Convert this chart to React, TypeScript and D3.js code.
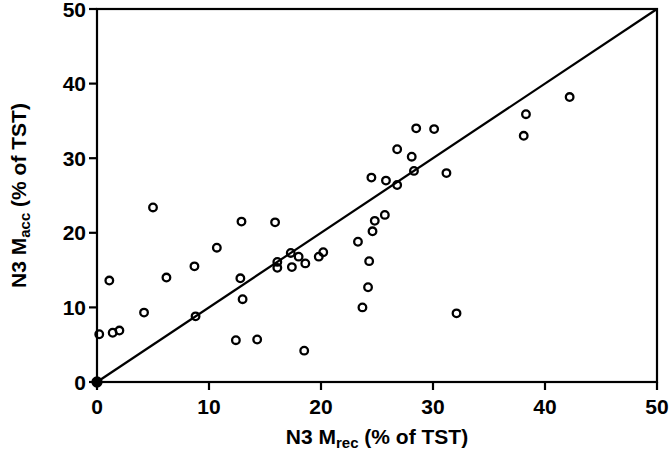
import * as d3 from 'd3';

// N3 M_rec (% of TST) vs N3 M_acc (% of TST), one pair per subject
const recValues = [
    0, 0.2, 1.1, 1.4, 2.0, 4.2, 5.0, 6.2, 8.7, 8.8,
    10.7, 12.4, 12.8, 12.9, 13.0, 14.3, 15.9, 16.1, 16.1, 17.3,
    17.4, 18.0, 18.5, 18.6, 19.8, 20.2, 23.3, 23.7, 24.2, 24.3,
    24.5, 24.6, 24.8, 25.7, 25.8, 26.8, 26.8, 28.1, 28.3, 28.5,
    30.1, 31.2, 32.1, 38.1, 38.3, 42.2,
];
const accValues = [
    0, 6.4, 13.6, 6.6, 6.9, 9.3, 23.4, 14.0, 15.5, 8.8,
    18.0, 5.6, 13.9, 21.5, 11.1, 5.7, 21.4, 16.1, 15.3, 17.3,
    15.4, 16.8, 4.2, 15.9, 16.8, 17.4, 18.8, 10.0, 12.7, 16.2,
    27.4, 20.2, 21.6, 22.4, 27.0, 26.4, 31.2, 30.2, 28.3, 34.0,
    33.9, 28.0, 9.2, 33.0, 35.9, 38.2,
];
const tickValues = [0, 10, 20, 30, 40, 50];
const identityLine = [0, 50];

const width = 670;
const height = 452;
const margin = { top: 9, right: 13, bottom: 70, left: 97 };
const font = '"Liberation Sans", Arial, Helvetica, sans-serif';

export default function App() {
    const x = d3.scaleLinear().domain([0, 50]).range([margin.left, width - margin.right]);
    const y = d3.scaleLinear().domain([0, 50]).range([height - margin.bottom, margin.top]);

    const points = recValues.map((r, i) => ({ r, a: accValues[i] }));
    const line = d3.line<number>()
        .x((d) => x(d))
        .y((d) => y(d));

    const x0 = x(0);
    const x1 = x(50);
    const y0 = y(0);
    const y1 = y(50);

    return (
        <svg
            width={width}
            height={height}
            style={{ position: 'absolute', left: 0, top: 0, background: '#fff' }}
            fontFamily={font}
            fontWeight="bold"
        >
            {/* frame */}
            <rect x={x0} y={y1} width={x1 - x0} height={y0 - y1} fill="none" stroke="#000" strokeWidth={2.2} />

            {/* x ticks */}
            {tickValues.map((t) => (
                <g key={'x' + t}>
                    <line x1={x(t)} x2={x(t)} y1={y0} y2={y0 + 8} stroke="#000" strokeWidth={2.2} />
                    <text x={x(t)} y={y0 + 32} textAnchor="middle" fontSize={21}>{t}</text>
                </g>
            ))}

            {/* y ticks */}
            {tickValues.map((t) => (
                <g key={'y' + t}>
                    <line x1={x0 - 8} x2={x0} y1={y(t)} y2={y(t)} stroke="#000" strokeWidth={2.2} />
                    <text x={x0 - 11} y={y(t) + 7.5} textAnchor="end" fontSize={21}>{t}</text>
                </g>
            ))}

            {/* line of identity */}
            <path d={line(identityLine) || ''} fill="none" stroke="#000" strokeWidth={2.2} />

            {/* subjects */}
            {points.map((p, i) => (
                <circle
                    key={i}
                    cx={x(p.r)}
                    cy={y(p.a)}
                    r={p.r === 0 && p.a === 0 ? 4.5 : 3.8}
                    fill={p.r === 0 && p.a === 0 ? '#000' : 'none'}
                    stroke="#000"
                    strokeWidth={2.3}
                />
            ))}

            {/* axis titles */}
            <text x={(x0 + x1) / 2} y={444} textAnchor="middle" fontSize={21}>
                <tspan>N3 M</tspan>
                <tspan fontSize={15} dy={4}>rec</tspan>
                <tspan dy={-4}> (% of TST)</tspan>
            </text>
            <text
                transform={`translate(26,${(y0 + y1) / 2}) rotate(-90)`}
                textAnchor="middle"
                fontSize={21}
            >
                <tspan>N3 M</tspan>
                <tspan fontSize={15} dy={4}>acc</tspan>
                <tspan dy={-4}> (% of TST)</tspan>
            </text>
        </svg>
    );
}
